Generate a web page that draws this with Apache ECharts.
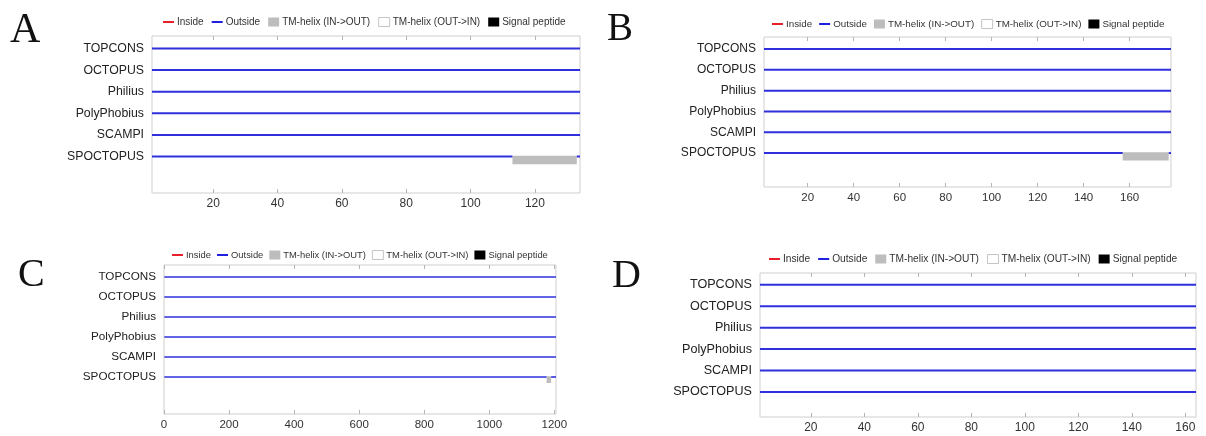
<!DOCTYPE html>
<html><head><meta charset="utf-8">
<script src="https://cdn.jsdelivr.net/npm/echarts@6/dist/echarts.min.js"></script>
<style>html,body{margin:0;padding:0;background:#fff}#c{width:1206px;height:436px}</style>
</head><body><div id="c"></div>
<script>
// ---------- DATA ----------
const methods = ['TOPCONS','OCTOPUS','Philius','PolyPhobius','SCAMPI','SPOCTOPUS'];
const legendNames = ['Inside','Outside','TM-helix (IN->OUT)','TM-helix (OUT->IN)','Signal peptide'];
const panelLetters = ['A','B','C','D'];
const axisMin = [1, 1, 0, 1];
const axisMax = [134, 178, 1205, 164];
const ticksA = [20,40,60,80,100,120];
const ticksB = [20,40,60,80,100,120,140,160];
const ticksC = [0,200,400,600,800,1000,1200];
const ticksD = [20,40,60,80,100,120,140,160];
// segments: [methodIndex, start, end]
const outsideA = [[0,1,134],[1,1,134],[2,1,134],[3,1,134],[4,1,134],[5,1,113],[5,133,134]];
const tmInOutA = [[5,113,133]];
const outsideB = [[0,1,178],[1,1,178],[2,1,178],[3,1,178],[4,1,178],[5,1,157],[5,177,178]];
const tmInOutB = [[5,157,177]];
const outsideC = [[0,1,1205],[1,1,1205],[2,1,1205],[3,1,1205],[4,1,1205],[5,1,1176],[5,1190,1205]];
const tmInOutC = [[5,1176,1190]];
const outsideD = [[0,1,164],[1,1,164],[2,1,164],[3,1,164],[4,1,164],[5,1,164]];
const tmInOutD = [];
const insideSegs = [[],[],[],[]];

const ticks = [ticksA, ticksB, ticksC, ticksD];
const outside = [outsideA, outsideB, outsideC, outsideD];
const tmInOut = [tmInOutA, tmInOutB, tmInOutC, tmInOutD];

// ---------- LAYOUT / STYLE ----------
const L = [
  {x0:152, x1:580, y0:36, y1:193, yMin:0.42, yMax:7.69, lgLeft:158, lgTop:12, lgFont:10, lgGap:8, lab:12.3, tick:12, lw:2, box:0.36, letter:[10,10,42]},
  {x0:764, x1:1171, y0:37, y1:187, yMin:0.42, yMax:7.63, lgLeft:767, lgTop:14, lgFont:9.8, lgGap:7, lab:12, tick:11.5, lw:2, box:0.36, letter:[607,10,39]},
  {x0:164, x1:556, y0:265, y1:414, yMin:0.40, yMax:7.85, lgLeft:167, lgTop:245, lgFont:9.4, lgGap:6, lab:11.7, tick:11.5, lw:1.6, box:0.3, letter:[18,255,40]},
  {x0:760, x1:1196, y0:273, y1:417, yMin:0.45, yMax:7.17, lgLeft:764, lgTop:249, lgFont:10.2, lgGap:8, lab:12.6, tick:12, lw:2, box:0.36, letter:[612,256,40]}
];
const BLUE = '#2f2fdc', RED = '#e8202a', GREY = '#bdbdbd';
const FONT = '"Liberation Sans", Arial, sans-serif';
const LINE_ICON = 'path://M0,0L0.01,0M0,3.5L11,3.5L11,5.6L0,5.6ZM11,9L11.01,9';

function segLine(color, width) {
  return (params, api) => {
    const r = api.value(0), a = api.value(1), b = api.value(2);
    const p1 = api.coord([a, r]), p2 = api.coord([b, r]);
    return {type:'line', shape:{x1:p1[0], y1:p1[1], x2:p2[0], y2:p2[1]}, style:{stroke:color, lineWidth:width}};
  };
}

const grids = [], xAxes = [], yAxes = [], series = [], legends = [], graphics = [];
L.forEach((g, p) => {
  grids.push({left:g.x0, top:g.y0, width:g.x1-g.x0, height:g.y1-g.y0, show:true, borderColor:'#cfcfcf', borderWidth:1, backgroundColor:'transparent'});
  xAxes.push({type:'value', gridIndex:p, position:'bottom', min:axisMin[p], max:axisMax[p],
    axisLine:{show:false}, splitLine:{show:false},
    axisTick:{show:true, inside:true, length:4, lineStyle:{color:'#b5b5b5'}, customValues:ticks[p]},
    axisLabel:{show:true, customValues:ticks[p], formatter:v => String(v), margin:5, color:'#333', fontSize:g.tick, fontFamily:FONT}});
  xAxes.push({type:'value', gridIndex:p, position:'top', min:axisMin[p], max:axisMax[p],
    axisLine:{show:false}, splitLine:{show:false},
    axisTick:{show:true, inside:true, length:4, lineStyle:{color:'#b5b5b5'}, customValues:ticks[p]},
    axisLabel:{show:false}});
  yAxes.push({type:'value', gridIndex:p, inverse:true, min:g.yMin, max:g.yMax,
    axisLine:{show:false}, axisTick:{show:false}, splitLine:{show:false},
    axisLabel:{show:true, customValues:[1,2,3,4,5,6], formatter:v => methods[Math.round(v)-1] || '',
      margin:8, color:'#222', fontSize:g.lab, fontFamily:FONT}});
  series.push({type:'custom', name:'Outside', xAxisIndex:2*p, yAxisIndex:p, silent:true,
    itemStyle:{color:BLUE}, encode:{x:[1,2], y:0},
    data: outside[p].map(s => [s[0]+1, s[1], s[2]]), renderItem: segLine(BLUE, g.lw), z:3});
  series.push({type:'custom', name:'Inside', xAxisIndex:2*p, yAxisIndex:p, silent:true,
    itemStyle:{color:RED}, encode:{x:[1,2], y:0},
    data: insideSegs[p].map(s => [s[0]+1, s[1], s[2]]), renderItem: segLine(RED, g.lw), z:3});
  series.push({type:'custom', name:'TM-helix (IN->OUT)', xAxisIndex:2*p, yAxisIndex:p, silent:true,
    itemStyle:{color:GREY}, encode:{x:[1,2], y:0},
    data: tmInOut[p].map(s => [s[0]+1, s[1], s[2]]),
    renderItem:(params, api) => {
      const r = api.value(0), a = api.value(1), b = api.value(2);
      const p1 = api.coord([a, r - 0.04]);
      const p2 = api.coord([b, r + g.box]);
      return {type:'rect', shape:{x:p1[0], y:Math.min(p1[1],p2[1]), width:p2[0]-p1[0], height:Math.abs(p2[1]-p1[1])},
        style:{fill:GREY}};
    }, z:2});
  if (p === 0) {
    series.push({type:'custom', name:'TM-helix (OUT->IN)', xAxisIndex:0, yAxisIndex:0, itemStyle:{color:'#fff'}, data:[], renderItem:()=>null});
    series.push({type:'custom', name:'Signal peptide', xAxisIndex:0, yAxisIndex:0, itemStyle:{color:'#000'}, data:[], renderItem:()=>null});
  }
  legends.push({left:g.lgLeft, top:g.lgTop, orient:'horizontal', itemWidth:11, itemHeight:9, itemGap:g.lgGap,
    selectedMode:false, textStyle:{fontSize:g.lgFont, color:'#333', fontFamily:FONT, padding:[0,0,0,-2]},
    data:[
      {name:legendNames[0], icon:LINE_ICON, itemStyle:{color:RED, borderWidth:0}},
      {name:legendNames[1], icon:LINE_ICON, itemStyle:{color:'#1f1fe0', borderWidth:0}},
      {name:legendNames[2], icon:'rect', itemStyle:{color:GREY, borderWidth:0}},
      {name:legendNames[3], icon:'rect', itemStyle:{color:'#fff', borderColor:'#c4c4c4', borderWidth:1}},
      {name:legendNames[4], icon:'rect', itemStyle:{color:'#000', borderWidth:0}}
    ]});
  graphics.push({type:'text', left:g.letter[0], top:g.letter[1],
    style:{text:panelLetters[p], font:g.letter[2]+'px "Liberation Serif", "Times New Roman", serif', fill:'#111'}});
});

const chart = echarts.init(document.getElementById('c'), null, {renderer:'canvas'});
chart.setOption({
  animation:false,
  backgroundColor:'#fff',
  grid:grids, xAxis:xAxes, yAxis:yAxes, series:series, legend:legends, graphic:graphics
});
</script></body></html>
